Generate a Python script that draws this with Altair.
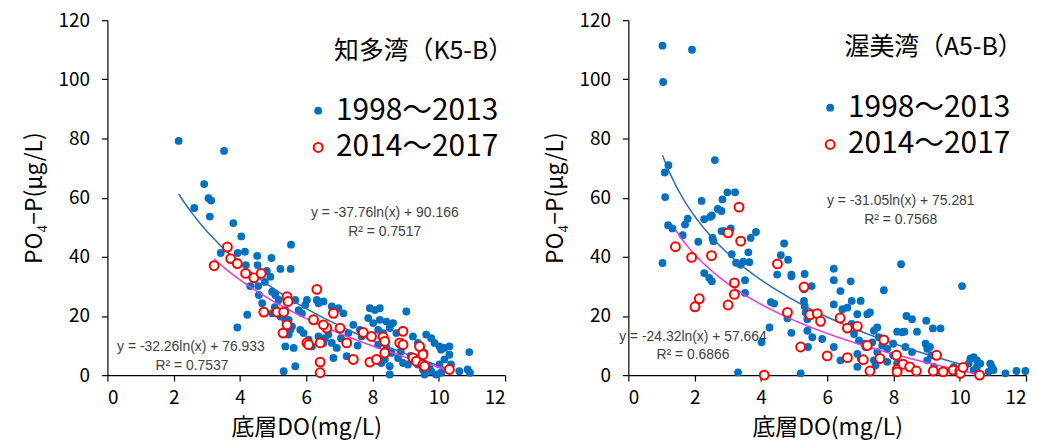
import altair as alt
import pandas as pd

# ---------------- data ----------------
# 知多湾 (K5-B)
k5_blue_x = [2.15, 3.52, 2.62, 2.92, 3.05, 3.13, 3.09, 3.80, 4.04, 3.42, 3.93, 4.15, 4.52, 4.95, 5.54,
             3.92, 4.18, 4.53, 4.37, 4.81, 4.92, 5.22, 5.53, 4.31, 4.55, 4.57, 4.67, 4.97, 5.07, 5.17,
             4.22, 3.92, 5.37, 5.47, 5.57, 5.67, 5.77, 5.87, 5.97, 6.02, 6.32, 6.37, 6.52, 5.82, 5.92,
             5.37, 5.62, 5.67, 5.32, 6.07, 6.17, 6.37, 6.52, 6.82, 6.77, 6.97, 7.12, 7.27, 7.42, 7.62,
             7.67, 7.22, 6.77, 6.92, 7.92, 8.07, 8.22, 7.87, 8.02, 8.22, 8.42, 8.62, 9.02, 8.17, 8.32,
             8.52, 8.72, 8.92, 7.77, 7.97, 8.17, 8.42, 8.57, 8.77, 8.92, 9.07, 8.37, 8.52, 8.27, 8.52,
             9.22, 9.37, 9.47, 9.57, 9.62, 9.77, 9.87, 10.02, 10.07, 10.17, 10.32, 10.32, 9.22, 9.37,
             9.52, 9.57, 9.72, 9.77, 9.92, 10.07, 10.37, 10.62, 10.87, 10.94, 10.92, 10.17, 10.02, 6.57,
             6.67, 4.97, 5.22, 5.37, 5.47, 5.52, 4.75, 5.05, 6.2, 7.05, 7.55, 8.85, 9.15]
k5_blue_y = [79.2, 75.8, 56.5, 64.6, 59.8, 59.0, 53.6, 51.4, 46.9, 41.3, 41.3, 41.7, 40.3, 39.6, 44.1,
             38.2, 37.2, 37.2, 33.3, 35.2, 33.3, 35.9, 35.9, 30.1, 30.1, 27.1, 24.3, 28.2, 27.1, 25.4,
             20.4, 16.1, 22.0, 18.7, 16.5, 25.4, 22.0, 20.9, 23.7, 25.4, 25.4, 24.3, 24.9, 15.3, 14.2,
             9.7, 9.2, 3.0, 1.3, 12.0, 9.7, 13.1, 10.9, 5.8, 23.2, 22.6, 20.9, 14.2, 17.0, 15.3,
             13.1, 6.4, 10.9, 9.2, 22.6, 22.0, 22.6, 19.3, 17.6, 18.7, 18.1, 17.6, 21.5, 15.3, 14.2,
             15.9, 14.2, 15.3, 14.2, 13.1, 10.3, 9.2, 7.5, 5.8, 4.1, 3.6, 5.3, 3.0, 4.1, 0.2,
             13.1, 10.9, 8.6, 7.5, 13.7, 12.5, 10.9, 9.7, 8.6, 9.2, 9.7, 6.9, 5.3, 3.6,
             1.9, 0.2, 3.0, 1.3, 0.2, 0.8, 3.6, 1.3, 1.9, 0.8, 7.8, 5.3, 3.6, 12.5,
             13.7, 20.9, 19.8, 18.7, 13.7, 15.3, 31.5, 23.0, 19.0, 12.5, 10.0, 8.0, 6.5]
k5_red_x = [3.22, 3.62, 3.72, 3.92, 4.17, 4.42, 4.64, 4.72, 5.12, 5.32, 5.30, 5.42, 5.42, 5.45, 6.32,
            6.22, 6.02, 6.07, 6.42, 6.42, 6.42, 6.62, 6.52, 6.82, 7.02, 7.22, 7.42, 7.72, 7.97, 7.92,
            8.12, 8.32, 8.37, 8.37, 8.82, 8.92, 8.92, 9.22, 9.42, 9.32, 9.52, 9.52, 9.57, 10.32]
k5_red_y = [37.0, 43.3, 39.4, 37.7, 34.4, 32.9, 34.4, 21.3, 21.3, 21.3, 14.2, 17.0, 26.5, 24.9, 29.0,
            18.7, 10.9, 10.3, 10.9, 4.4, 0.8, 15.9, 17.0, 20.9, 15.9, 10.9, 5.3, 14.4, 13.1, 4.4,
            5.3, 12.9, 7.5, 11.4, 10.9, 14.8, 10.3, 5.8, 9.7, 4.7, 6.9, 3.6, 3.0, 1.9]

# 渥美湾 (A5-B)
a5_blue_x = [1.03, 1.05, 1.92, 2.61, 1.21, 1.10, 1.11, 1.03, 1.20, 1.33, 1.64, 1.79, 1.71, 2.21, 2.11,
             2.29, 2.52, 2.47, 2.70, 2.81, 2.84, 2.99, 3.22, 2.81, 3.09, 2.89, 2.54, 2.57, 2.29, 2.44,
             2.52, 3.12, 3.39, 3.47, 3.62, 3.65, 3.69, 3.85, 3.52, 3.52, 3.31, 4.02, 4.26, 4.30, 4.40,
             4.49, 4.70, 4.60, 4.82, 4.92, 4.92, 5.32, 5.30, 4.92, 4.80, 5.30, 5.32, 5.35, 5.40, 5.40,
             5.20, 5.53, 5.55, 5.42, 5.85, 6.20, 6.20, 6.40, 6.20, 6.46, 6.20, 6.40, 6.71, 6.61, 6.74,
             6.74, 7.01, 6.91, 7.21, 7.29, 6.81, 6.96, 7.11, 6.91, 7.01, 7.16, 6.91, 7.41, 7.51, 7.36,
             7.51, 7.41, 7.46, 7.56, 7.66, 7.71, 7.99, 7.81, 7.99, 7.81, 8.23, 8.11, 8.26, 8.33, 8.39,
             8.56, 8.71, 8.36, 8.56, 8.11, 8.99, 9.19, 9.42, 8.97, 9.02, 9.10, 9.14, 9.02, 9.22, 10.07,
             10.32, 10.42, 10.27, 10.52, 10.62, 10.52, 10.42, 10.92, 10.97, 10.87, 11.02, 11.38, 11.71, 11.98,
             9.82, 9.92, 1.40, 3.25]
a5_blue_y = [111.4, 99.1, 110.0, 72.7, 71.0, 68.5, 60.2, 37.9, 50.7, 49.6, 47.3, 52.9, 50.9, 58.9, 45.1,
             52.7, 54.0, 53.5, 56.2, 55.5, 59.4, 61.8, 61.8, 48.7, 49.6, 48.7, 46.4, 45.3, 34.5, 32.9,
             31.7, 40.9, 37.3, 38.4, 41.5, 38.2, 46.4, 48.4, 32.1, 27.8, 0.9, 11.1, 16.1, 24.7, 24.2,
             34.0, 44.5, 40.6, 39.0, 34.0, 33.4, 34.2, 29.0, 14.3, 19.2, 25.1, 23.4, 21.2, 18.9, 15.0,
             0.6, 30.1, 12.8, 9.5, 12.2, 36.0, 32.1, 28.4, 23.9, 22.3, 9.5, 5.0, 31.7, 22.8, 25.1,
             17.3, 25.1, 20.6, 20.6, 21.2, 13.9, 11.7, 10.6, 7.2, 5.6, 9.5, 2.8, 15.0, 16.1, 11.1,
             7.8, 5.0, 3.3, 12.8, 10.0, 28.7, 10.6, 8.9, 6.7, 4.5, 37.5, 14.7, 14.5, 14.7, 20.0,
             18.9, 14.7, 9.5, 7.8, 3.9, 18.4, 15.8, 15.8, 10.6, 8.9, 9.5, 6.7, 5.0, 2.8, 30.1,
             5.6, 6.1, 3.9, 5.0, 3.9, 2.8, 1.7, 3.9, 2.8, 1.1, 1.7, 0.6, 1.4, 1.4,
             2.8, 1.7, 43.5, 38.0]
a5_red_x = [1.42, 1.91, 2.01, 2.14, 2.51, 3.01, 3.01, 3.20, 3.20, 3.34, 3.39, 4.10, 4.50, 4.80, 5.20,
            5.30, 5.48, 5.70, 5.80, 6.00, 6.39, 6.61, 6.61, 6.91, 7.09, 7.21, 7.29, 7.59, 7.71, 8.09,
            8.11, 8.11, 8.29, 8.49, 8.69, 9.20, 9.30, 9.50, 9.80, 10.00, 10.02, 10.10, 10.60]
a5_red_y = [43.4, 39.8, 23.1, 25.8, 40.4, 48.1, 23.7, 31.2, 27.3, 56.8, 45.3, 0.0, 37.6, 21.2, 9.5,
            29.8, 20.4, 20.8, 18.2, 6.5, 19.3, 15.9, 5.9, 16.5, 5.2, 10.0, 1.4, 5.6, 11.9, 6.7,
            1.9, 1.1, 3.7, 2.8, 1.4, 1.4, 6.7, 1.1, 1.7, 1.4, 0.6, 2.6, 0.0]

# fitted log trendlines shown on the chart: y = a*ln(x) + b, drawn over [x_start, x_end]
k5_fit_a = [-37.76, -32.26]
k5_fit_b = [90.166, 76.933]
k5_fit_range = [[2.15, 10.4], [3.22, 10.32]]
a5_fit_a = [-31.05, -24.32]
a5_fit_b = [75.281, 57.664]
a5_fit_range = [[1.03, 10.3], [1.42, 10.6]]

k5_eq = ["y = -37.76ln(x) + 90.166", "R² = 0.7517", "y = -32.26ln(x) + 76.933", "R² = 0.7537"]
a5_eq = ["y = -31.05ln(x) + 75.281", "R² = 0.7568", "y = -24.32ln(x) + 57.664", "R² = 0.6866"]

panel_titles = ["知多湾（K5-B）", "渥美湾（A5-B）"]
legend_labels = ["1998～2013", "2014～2017"]
x_ticks = [0, 2, 4, 6, 8, 10, 12]
y_ticks = [0, 20, 40, 60, 80, 100, 120]
x_title = "底層DO(mg/L)"
y_title = "PO₄−P(μg/L)"

# ---------------- style ----------------
BLUE = "#0070C0"
RED = "#FF0000"
FIT_BLUE = "#2E6BB0"
FIT_MAG = "#E83AD8"
JP = "Noto Sans CJK JP"
EQF = "Liberation Sans"
W, H = 400, 357

xs = alt.Scale(domain=[0, 12], nice=False, zero=True)
ys = alt.Scale(domain=[0, 120], nice=False, zero=True)


def one():
    return alt.Chart(pd.DataFrame({"d": [0]}))


def panel(bx, by, rx, ry, fa, fb, fr, eqs, title, pos):
    xax = alt.Axis(values=x_ticks, title=x_title, grid=False)
    yax = alt.Axis(values=y_ticks, title=y_title, grid=False)
    blue = alt.Chart(pd.DataFrame({"x": bx, "y": by})).mark_circle(
        size=62, color=BLUE, opacity=1
    ).encode(x=alt.X("x:Q", scale=xs, axis=xax), y=alt.Y("y:Q", scale=ys, axis=yax))
    red = alt.Chart(pd.DataFrame({"x": rx, "y": ry})).mark_point(
        shape="circle", size=80, color=RED, fill="white", filled=False, strokeWidth=2, opacity=1, fillOpacity=1
    ).encode(x=alt.X("x:Q", scale=xs, axis=xax), y=alt.Y("y:Q", scale=ys, axis=yax))
    fits = []
    for i, col in enumerate([FIT_BLUE, FIT_MAG]):
        lo, hi = fr[i]
        fits.append(
            alt.Chart(alt.sequence(lo, hi + 0.001, 0.05, as_="x"))
            .transform_calculate(y=f"{fa[i]} * log(datum.x) + {fb[i]}")
            .mark_line(color=col, strokeWidth=1.5)
            .encode(x=alt.X("x:Q", scale=xs, axis=xax), y=alt.Y("y:Q", scale=ys, axis=yax))
        )
    texts = []
    for i, t in enumerate(eqs):
        px, py = pos["eq"][i]
        texts.append(
            one().mark_text(font=EQF, fontSize=14, color="#404040", align="center", baseline="middle")
            .encode(x=alt.value(px), y=alt.value(py), text=alt.value(t))
        )
    tx, ty = pos["title"]
    texts.append(
        one().mark_text(font=JP, fontSize=25, color="black", align="center", baseline="middle")
        .encode(x=alt.value(tx), y=alt.value(ty), text=alt.value(title))
    )
    lx, ly = pos["legend"]
    leg = [
        one().mark_circle(size=62, color=BLUE, opacity=1).encode(x=alt.value(lx), y=alt.value(ly[0])),
        one().mark_point(shape="circle", size=80, color=RED, fill="white", filled=False, strokeWidth=2, opacity=1)
        .encode(x=alt.value(lx), y=alt.value(ly[1])),
    ]
    for i, lab in enumerate(legend_labels):
        leg.append(
            one().mark_text(font=JP, fontSize=30, color="black", align="left", baseline="middle")
            .encode(x=alt.value(lx + 18), y=alt.value(ly[i]), text=alt.value(lab))
        )
    return alt.layer(blue, *fits, red, *texts, *leg).properties(width=W, height=H)


left = panel(k5_blue_x, k5_blue_y, k5_red_x, k5_red_y, k5_fit_a, k5_fit_b, k5_fit_range, k5_eq,
             panel_titles[0],
             {"eq": [(279, 194), (279, 213), (84, 329), (85, 348)], "title": (318, 31), "legend": (212, (91, 128))})
right = panel(a5_blue_x, a5_blue_y, a5_red_x, a5_red_y, a5_fit_a, a5_fit_b, a5_fit_range, a5_eq,
              panel_titles[1],
              {"eq": [(274, 182), (274, 201), (65, 319), (65, 337)], "title": (307, 27), "legend": (203, (88, 125))})

chart = alt.hconcat(left, right, spacing=30).properties(
    padding={"left": 15, "top": 2, "right": 0, "bottom": 2}
).configure_view(stroke=None).configure_axis(
    domainColor="black", domainWidth=1.2, tickColor="black", tickSize=6, tickWidth=1.2,
    labelFont=JP, labelFontSize=19, labelColor="black",
    titleFont=JP, titleFontSize=23, titleColor="black", titleFontWeight="normal",
).configure_axisY(labelPadding=12, titlePadding=12).configure_axisX(labelPadding=8, titlePadding=9)

chart.save("out.html", embed_options={"renderer": "svg", "actions": False})
